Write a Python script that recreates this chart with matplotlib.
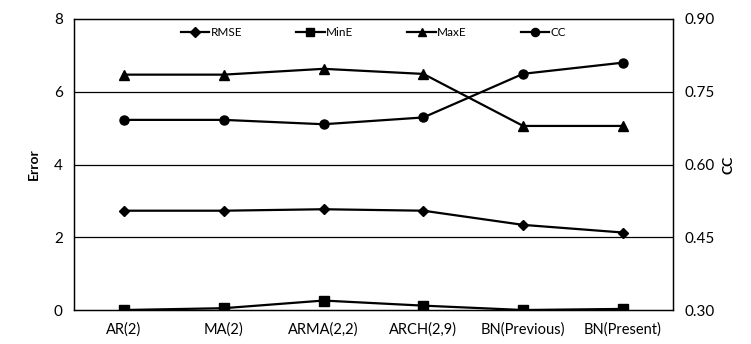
import matplotlib
matplotlib.use("Agg")
import matplotlib.pyplot as plt
import numpy as np

plt.rcParams['font.family'] = ['Lato', 'DejaVu Sans']

models = ['AR(2)', 'MA(2)', 'ARMA(2,2)', 'ARCH(2,9)', 'BN(Previous)', 'BN(Present)']
rmse = [2.73, 2.73, 2.77, 2.73, 2.34, 2.13]
mine = [0.00, 0.05, 0.26, 0.12, 0.00, 0.03]
maxe = [6.47, 6.47, 6.63, 6.49, 5.06, 5.06]
cc = [0.692, 0.692, 0.683, 0.697, 0.787, 0.810]

x = np.arange(len(models))

fig = plt.figure(figsize=(7.51, 3.44), dpi=100)
ax = fig.add_axes([0.0985, 0.0988, 0.7975, 0.846])
ax2 = ax.twinx()

style = dict(color='black', linewidth=1.6)
l1, = ax.plot(x, rmse, marker='D', markersize=5.5, label='RMSE', **style)
l2, = ax.plot(x, mine, marker='s', markersize=6.5, label='MinE', **style)
l3, = ax.plot(x, maxe, marker='^', markersize=6.5, label='MaxE', **style)
l4, = ax2.plot(x, cc, marker='o', markersize=6.5, label='CC', **style)

ax.set_xlim(-0.5, len(models) - 0.5)
ax.set_ylim(0, 8)
ax.set_yticks([0, 2, 4, 6, 8])
ax2.set_ylim(0.30, 0.90)
ax2.set_yticks([0.30, 0.45, 0.60, 0.75, 0.90])
ax2.set_yticklabels(['0.30', '0.45', '0.60', '0.75', '0.90'])

ax.set_xticks(x)
ax.set_xticklabels(models)
for a in (ax, ax2):
    a.tick_params(length=0, labelsize=11, pad=8)
    for s in a.spines.values():
        s.set_linewidth(0.9)
ax.tick_params(axis='x', labelsize=10.5, pad=9)

for g in [2, 4, 6]:
    ax.axhline(g, color='black', linewidth=0.9, zorder=0)

ax.set_ylabel('Error', fontsize=10, fontweight='bold', labelpad=10)
ax2.set_ylabel('CC', fontsize=10, fontweight='bold', labelpad=6)

ax.legend([l1, l2, l3, l4], ['RMSE', 'MinE', 'MaxE', 'CC'], loc='upper center',
          bbox_to_anchor=(0.5, 1.01), ncol=4, frameon=False, fontsize=8.5,
          handlelength=2.4, handletextpad=0.1, columnspacing=4.6, markerscale=0.9)

fig.savefig('out.png', dpi=100)
